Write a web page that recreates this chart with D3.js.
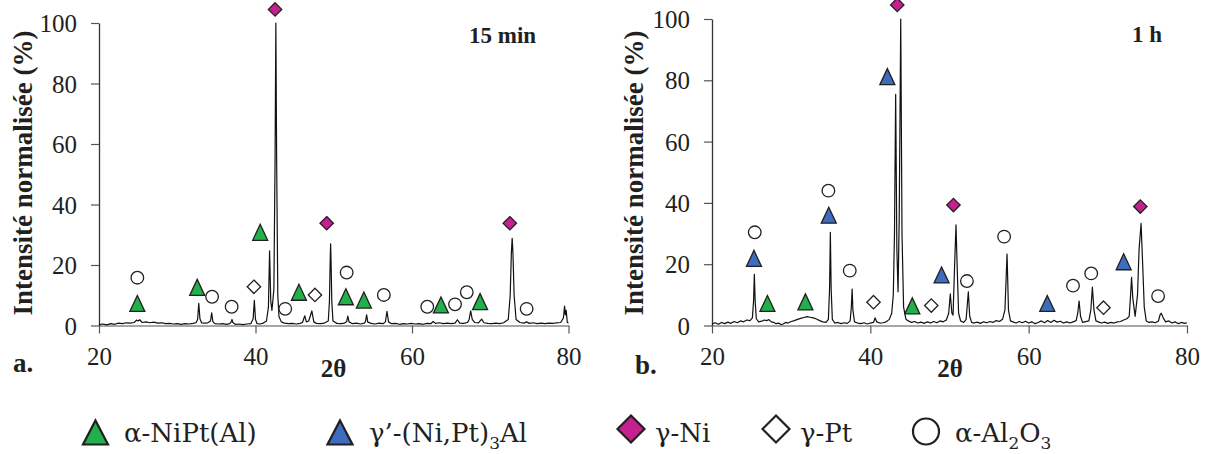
<!DOCTYPE html>
<html>
<head>
<meta charset="utf-8">
<script src="https://cdn.jsdelivr.net/npm/d3@7"></script>
<style>
  html, body { margin: 0; padding: 0; background: #fff; }
  svg { display: block; }
</style>
</head>
<body>
<svg id="chart" width="1208" height="454"></svg>
<script>
// ---------------- DATA ----------------
const xTicks = [20, 40, 60, 80];
const yTicks = [0, 20, 40, 60, 80, 100];
const panelLabels = ["a.", "b."];
const panelTitles = ["15 min", "1 h"];
const xAxisTitle = "2θ";
const yAxisTitle = "Intensité normalisée (%)";

// Pattern a (15 min): [2θ, intensity %]
const patternA = [
  [20.0,0.3],[20.5,0.5],[21.0,0.2],[21.5,0.6],[22.0,0.4],[22.5,0.8],[23.0,0.6],[23.5,0.9],[24.0,0.8],[24.5,1.0],
  [24.8,1.8],[25.0,1.5],[25.2,1.9],[25.5,1.0],[26.0,1.2],[26.5,0.9],[27.0,1.1],[27.5,0.8],[28.0,0.9],[28.5,0.6],
  [29.0,0.7],[29.5,0.5],[30.0,0.6],[30.5,0.4],[31.0,0.6],[31.5,0.5],[32.0,0.7],[32.4,0.9],
  [32.6,2.0],[32.75,7.3],[32.9,2.2],[33.1,0.9],[33.5,0.8],[33.9,0.9],
  [34.25,1.5],[34.4,4.2],[34.55,1.3],[34.8,0.6],[35.3,0.5],[35.8,0.6],[36.3,0.4],[36.7,0.6],
  [36.9,1.2],[37.0,2.0],[37.1,1.0],[37.4,0.4],[37.9,0.5],[38.4,0.3],[38.9,0.5],[39.4,0.6],
  [39.7,2.2],[39.85,8.3],[40.0,2.0],[40.2,0.6],[40.6,0.5],[41.0,0.8],[41.4,1.5],
  [41.65,6],[41.8,24.7],[41.95,8],[42.1,5],
  [42.35,12],[42.5,55],[42.6,100],[42.7,55],[42.85,10],[43.0,3],[43.3,1.2],[43.7,0.8],[44.2,0.6],[44.7,0.7],
  [45.2,0.5],[45.7,0.7],[46.0,1.0],[46.3,3.2],[46.5,1.2],[46.8,1.5],[47.2,4.8],[47.45,1.2],[47.8,0.7],[48.3,0.6],
  [48.8,0.8],[49.3,1.5],[49.45,8],[49.55,22],[49.6,27],[49.65,22],[49.75,8],[49.9,1.5],[50.4,0.7],[50.9,0.6],
  [51.4,0.8],[51.65,1.3],[51.8,3.1],[51.95,1.2],[52.4,0.6],[52.9,0.8],[53.4,0.5],[53.9,0.8],[54.05,1.2],[54.2,3.5],
  [54.35,1.1],[54.8,0.7],[55.3,0.5],[55.8,0.8],[56.3,0.6],[56.6,1.2],[56.8,4.7],[57.0,1.2],[57.4,0.6],[57.9,0.7],
  [58.4,0.4],[58.9,0.6],[59.4,0.5],[59.9,0.7],[60.4,0.5],[60.9,0.6],[61.4,0.4],[61.9,0.7],[62.4,0.6],[62.7,1.3],
  [63.0,0.7],[63.5,0.9],[64.0,0.6],[64.5,0.8],[65.0,0.6],[65.5,0.8],[65.8,1.9],[66.1,0.8],[66.6,0.7],[67.1,1.0],
  [67.3,2.0],[67.5,4.8],[67.7,2.0],[68.0,1.0],[68.5,0.9],[68.9,2.1],[69.2,0.9],[69.7,0.7],[70.2,0.6],[70.7,0.8],
  [71.2,0.6],[71.7,0.9],[72.3,2.0],[72.55,10],[72.7,24],[72.8,28.8],[72.9,24],[73.05,10],[73.3,2.0],[73.8,1.0],
  [74.3,0.8],[74.65,1.2],[75.0,0.7],[75.5,0.9],[76.0,0.6],[76.5,0.8],[77.0,0.6],[77.5,0.8],[78.0,0.7],[78.5,0.9],
  [79.0,1.0],[79.35,2.5],[79.5,6.4],[79.6,3.5],[79.7,5.0],[79.85,1.0],[80.0,0.8]
];

// Pattern b (1 h): [2θ, intensity %]
const patternB = [
  [20.0,0.5],[20.4,0.9],[20.8,0.4],[21.2,1.0],[21.6,0.6],[22.0,1.1],[22.4,0.7],[22.8,1.3],[23.2,0.9],[23.6,1.5],
  [24.0,1.2],[24.4,1.8],[24.8,1.6],[25.1,2.5],[25.25,8],[25.35,16.7],[25.45,8],[25.6,2.2],[25.9,1.2],[26.3,1.4],
  [26.6,1.8],[26.9,1.6],[27.2,1.9],[27.5,1.2],[27.8,1.0],[28.1,0.6],[28.4,0.8],[28.7,0.3],[29.0,0.5],[29.3,1.0],
  [29.6,0.8],[30.0,1.3],[30.4,1.6],[30.8,2.0],[31.2,2.3],[31.6,2.6],[32.0,2.9],[32.4,2.7],[32.8,2.5],[33.2,2.1],
  [33.6,1.6],[34.0,1.2],[34.4,1.0],[34.7,2.0],[34.85,12],[34.95,30.4],[35.05,12],[35.2,2.0],[35.5,0.8],[35.9,1.0],
  [36.3,0.6],[36.7,0.9],[37.1,0.7],[37.45,1.5],[37.6,6],[37.7,11.9],[37.8,5],[38.0,1.2],[38.4,0.8],[38.8,0.6],
  [39.2,0.9],[39.6,0.5],[40.0,0.8],[40.4,1.0],[40.6,2.5],[40.8,1.2],[41.2,0.8],[41.6,0.9],[42.0,1.2],[42.4,2.0],
  [42.7,4],[42.9,10],[43.05,30],[43.2,75.4],[43.35,25],[43.5,11],[43.65,35],[43.84,100],[44.0,30],[44.2,6],
  [44.5,2.0],[44.8,1.5],[45.2,1.0],[45.6,1.3],[46.0,0.8],[46.4,1.1],[46.8,0.7],[47.2,1.2],[47.6,0.8],[48.0,1.3],
  [48.4,0.9],[48.8,1.5],[49.2,1.2],[49.6,1.8],[49.9,4],[50.1,10.3],[50.3,4],[50.45,3.4],[50.65,20],[50.82,32.8],
  [50.98,18],[51.15,4],[51.4,1.5],[51.8,1.0],[52.1,2.0],[52.38,11],[52.55,3],[52.8,1.0],[53.1,0.8],[53.5,1.1],
  [53.9,0.7],[54.3,1.2],[54.7,0.9],[55.1,1.3],[55.5,1.0],[55.9,1.6],[56.3,1.3],[56.7,2.0],[57.0,5],[57.27,23.3],
  [57.45,5],[57.7,1.5],[58.0,1.2],[58.4,0.8],[58.8,1.3],[59.2,0.9],[59.6,1.4],[60.0,0.8],[60.4,1.2],[60.8,0.6],
  [61.2,1.0],[61.6,1.5],[62.0,0.9],[62.4,1.6],[62.8,1.0],[63.2,1.7],[63.6,1.1],[64.0,1.4],[64.4,0.8],[64.8,1.2],
  [65.2,0.8],[65.6,1.2],[66.0,1.6],[66.2,4],[66.37,8.0],[66.55,3],[66.8,1.0],[67.1,1.2],[67.6,1.5],[67.85,5],
  [68.05,12.5],[68.25,5],[68.5,1.5],[68.8,1.2],[69.2,0.8],[69.6,1.1],[70.0,0.7],[70.4,1.0],[70.8,0.8],[71.2,1.2],
  [71.6,1.3],[72.0,1.8],[72.4,2.2],[72.7,3],[72.85,9],[73.0,15.7],[73.15,9],[73.45,3],[73.75,10],[73.95,25],
  [74.2,33.3],[74.4,20],[74.6,6],[74.85,1.5],[75.2,1.0],[75.6,1.2],[76.0,0.9],[76.4,1.5],[76.6,3.5],[76.75,4.0],
  [77.0,2.5],[77.3,1.2],[77.7,1.5],[78.1,0.8],[78.5,1.2],[78.9,0.6],[79.3,1.0],[79.7,0.7],[80.0,0.9]
];

// Phase markers [2θ, marker height %]
const aAlphaNiPt = [[24.9,7.3],[32.55,12.6],[40.6,30.8],[45.55,11],[51.55,9.5],[53.85,8.4],[63.7,6.8],[68.7,7.9]];
const aGammaPrime = [];
const aGammaNi = [[42.5,104.5],[49.1,33.8],[72.5,33.8]];
const aGammaPt = [[39.8,12.8],[47.6,10.1]];
const aAlumina = [[24.9,15.8],[34.45,9.5],[36.95,6.2],[43.8,5.5],[51.65,17.5],[56.4,10.1],[61.95,6.2],[65.5,7.0],[67.0,11.0],[74.65,5.5]];

const bAlphaNiPt = [[27.0,7.2],[31.8,7.7],[45.3,6.4]];
const bGammaPrime = [[25.3,21.9],[34.75,36.0],[42.15,81.2],[49.0,16.5],[62.35,7.2],[72.0,20.8]];
const bGammaNi = [[43.4,104.6],[50.5,39.3],[74.1,38.8]];
const bGammaPt = [[40.4,7.6],[47.7,6.5],[69.45,5.8]];
const bAlumina = [[25.4,30.4],[34.7,44.0],[37.4,17.9],[52.2,14.5],[56.9,29.0],[65.6,13.0],[67.9,17.0],[76.35,9.6]];

// Legend
const legendKeys = ["alphaNiPt", "gammaPrime", "gammaNi", "gammaPt", "alumina"];
const legendLabels = [
  [["α-NiPt(Al)", false]],
  [["γ’-(Ni,Pt)", false], ["3", true], ["Al", false]],
  [["γ-Ni", false]],
  [["γ-Pt", false]],
  [["α-Al", false], ["2", true], ["O", false], ["3", true]]
];

// ---------------- STYLE / LAYOUT ----------------
const styles = {
  alphaNiPt: { shape: "tri", fill: "#22b04b" },
  gammaPrime: { shape: "tri", fill: "#3d6dbf" },
  gammaNi: { shape: "dia", fill: "#c5208f" },
  gammaPt: { shape: "dia", fill: "#ffffff" },
  alumina: { shape: "circ", fill: "#ffffff" }
};

const panels = [
  { left: 99, right: 568.5, top: 23, bottom: 325.5, pattern: patternA,
    markers: { alphaNiPt: aAlphaNiPt, gammaPrime: aGammaPrime, gammaNi: aGammaNi, gammaPt: aGammaPt, alumina: aAlumina },
    label: { x: 13, y: 372 }, title: { x: 469, y: 43 }, xTitle: { x: 333.5, y: 377 }, yTitle: { x: 32, y: 173 } },
  { left: 712, right: 1187, top: 19, bottom: 325.5, pattern: patternB,
    markers: { alphaNiPt: bAlphaNiPt, gammaPrime: bGammaPrime, gammaNi: bGammaNi, gammaPt: bGammaPt, alumina: bAlumina },
    label: { x: 635, y: 374 }, title: { x: 1132, y: 42 }, xTitle: { x: 950, y: 377 }, yTitle: { x: 643, y: 173 } }
];

const svg = d3.select("#chart");
const serif = "'Liberation Serif', 'Times New Roman', serif";
const legendFont = "'DejaVu Serif', serif";
const ink = "#231f20";

function shapePath(shape, cx, cy, s) {
  const p = d3.path();
  if (shape === "tri") {
    const w = s.tw / 2, h = s.th / 2;
    p.moveTo(cx, cy - h); p.lineTo(cx + w, cy + h); p.lineTo(cx - w, cy + h); p.closePath();
  } else if (shape === "dia") {
    const d = s.dh;
    p.moveTo(cx, cy - d); p.lineTo(cx + d, cy); p.lineTo(cx, cy + d); p.lineTo(cx - d, cy); p.closePath();
  } else {
    p.moveTo(cx + s.r, cy); p.arc(cx, cy, s.r, 0, Math.PI * 2);
  }
  return p.toString();
}

const plotSize = { tw: 15, th: 16, dh: 6.7, r: 6.3 };
const legendSize = { tw: 25, th: 24, dh: 13.5, r: 13 };

panels.forEach((pn, i) => {
  const x = d3.scaleLinear().domain([20, 80]).range([pn.left, pn.right]);
  const y = d3.scaleLinear().domain([0, 100]).range([pn.bottom, pn.top]);
  const g = svg.append("g");

  // x axis
  const xa = g.append("g").attr("transform", `translate(0,${pn.bottom})`)
    .call(d3.axisBottom(x).tickValues(xTicks).tickSize(8).tickSizeOuter(0).tickPadding(14));
  xa.select(".domain").attr("stroke", "#8a8a8a").attr("stroke-width", 1.3);
  xa.selectAll(".tick line").attr("stroke", "#555").attr("stroke-width", 1.2);
  xa.selectAll(".tick text").attr("font-family", serif).attr("font-size", 25).attr("fill", ink);

  // y axis
  const ya = g.append("g").attr("transform", `translate(${pn.left},0)`)
    .call(d3.axisLeft(y).tickValues(yTicks).tickSize(8).tickSizeOuter(0).tickPadding(14));
  ya.select(".domain").attr("stroke", "#333").attr("stroke-width", 1.3);
  ya.selectAll(".tick line").attr("stroke", "#555").attr("stroke-width", 1.2);
  ya.selectAll(".tick text").attr("font-family", serif).attr("font-size", 25).attr("fill", ink)
    .attr("dy", "0.34em");

  // pattern line
  const line = d3.line().x(d => x(d[0])).y(d => y(d[1]));
  g.append("path").datum(pn.pattern).attr("d", line)
    .attr("fill", "none").attr("stroke", "#111").attr("stroke-width", 1.2).attr("stroke-linejoin", "round");

  // markers
  Object.keys(pn.markers).forEach(k => {
    const st = styles[k];
    g.selectAll(null).data(pn.markers[k]).enter().append("path")
      .attr("d", d => shapePath(st.shape, x(d[0]), y(d[1]), plotSize))
      .attr("fill", st.fill).attr("stroke", ink).attr("stroke-width", 1.3);
  });

  // texts
  g.append("text").attr("x", pn.title.x).attr("y", pn.title.y)
    .attr("font-family", serif).attr("font-weight", "bold").attr("font-size", 23).attr("fill", ink)
    .text(panelTitles[i]);
  g.append("text").attr("x", pn.label.x).attr("y", pn.label.y)
    .attr("font-family", serif).attr("font-weight", "bold").attr("font-size", 27).attr("fill", ink)
    .text(panelLabels[i]);
  g.append("text").attr("x", pn.xTitle.x).attr("y", pn.xTitle.y).attr("text-anchor", "middle")
    .attr("font-family", serif).attr("font-weight", "bold").attr("font-size", 25).attr("fill", ink)
    .text(xAxisTitle);
  g.append("text").attr("transform", `translate(${pn.yTitle.x},${pn.yTitle.y}) rotate(-90)`)
    .attr("text-anchor", "middle")
    .attr("font-family", serif).attr("font-weight", "bold").attr("font-size", 27).attr("fill", ink)
    .text(yAxisTitle);
});

// legend
const legendPos = [
  { mx: 95.5, my: 432.5, tx: 124 },
  { mx: 340, my: 432.5, tx: 369 },
  { mx: 631, my: 429, tx: 655 },
  { mx: 776, my: 429, tx: 800 },
  { mx: 926, my: 431.5, tx: 955 }
];
const lg = svg.append("g");
legendKeys.forEach((k, i) => {
  const st = styles[k], p = legendPos[i];
  lg.append("path").attr("d", shapePath(st.shape, p.mx, p.my, legendSize))
    .attr("fill", st.fill).attr("stroke", ink).attr("stroke-width", 2.2);
  const t = lg.append("text").attr("x", p.tx).attr("y", 442)
    .attr("font-family", legendFont).attr("font-size", 26).attr("fill", ink);
  legendLabels[i].forEach(([s, sub]) => {
    const ts = t.append("tspan").text(s);
    if (sub) ts.attr("font-size", 17).attr("dy", 7);
    else ts.attr("dy", 0);
  });
  // reset baseline after subscripts
  t.selectAll("tspan").each(function(d, j, nodes) {
    const prevSub = j > 0 && legendLabels[i][j - 1][1];
    const isSub = legendLabels[i][j][1];
    if (!isSub && prevSub) d3.select(this).attr("dy", -7);
  });
});
</script>
</body>
</html>
